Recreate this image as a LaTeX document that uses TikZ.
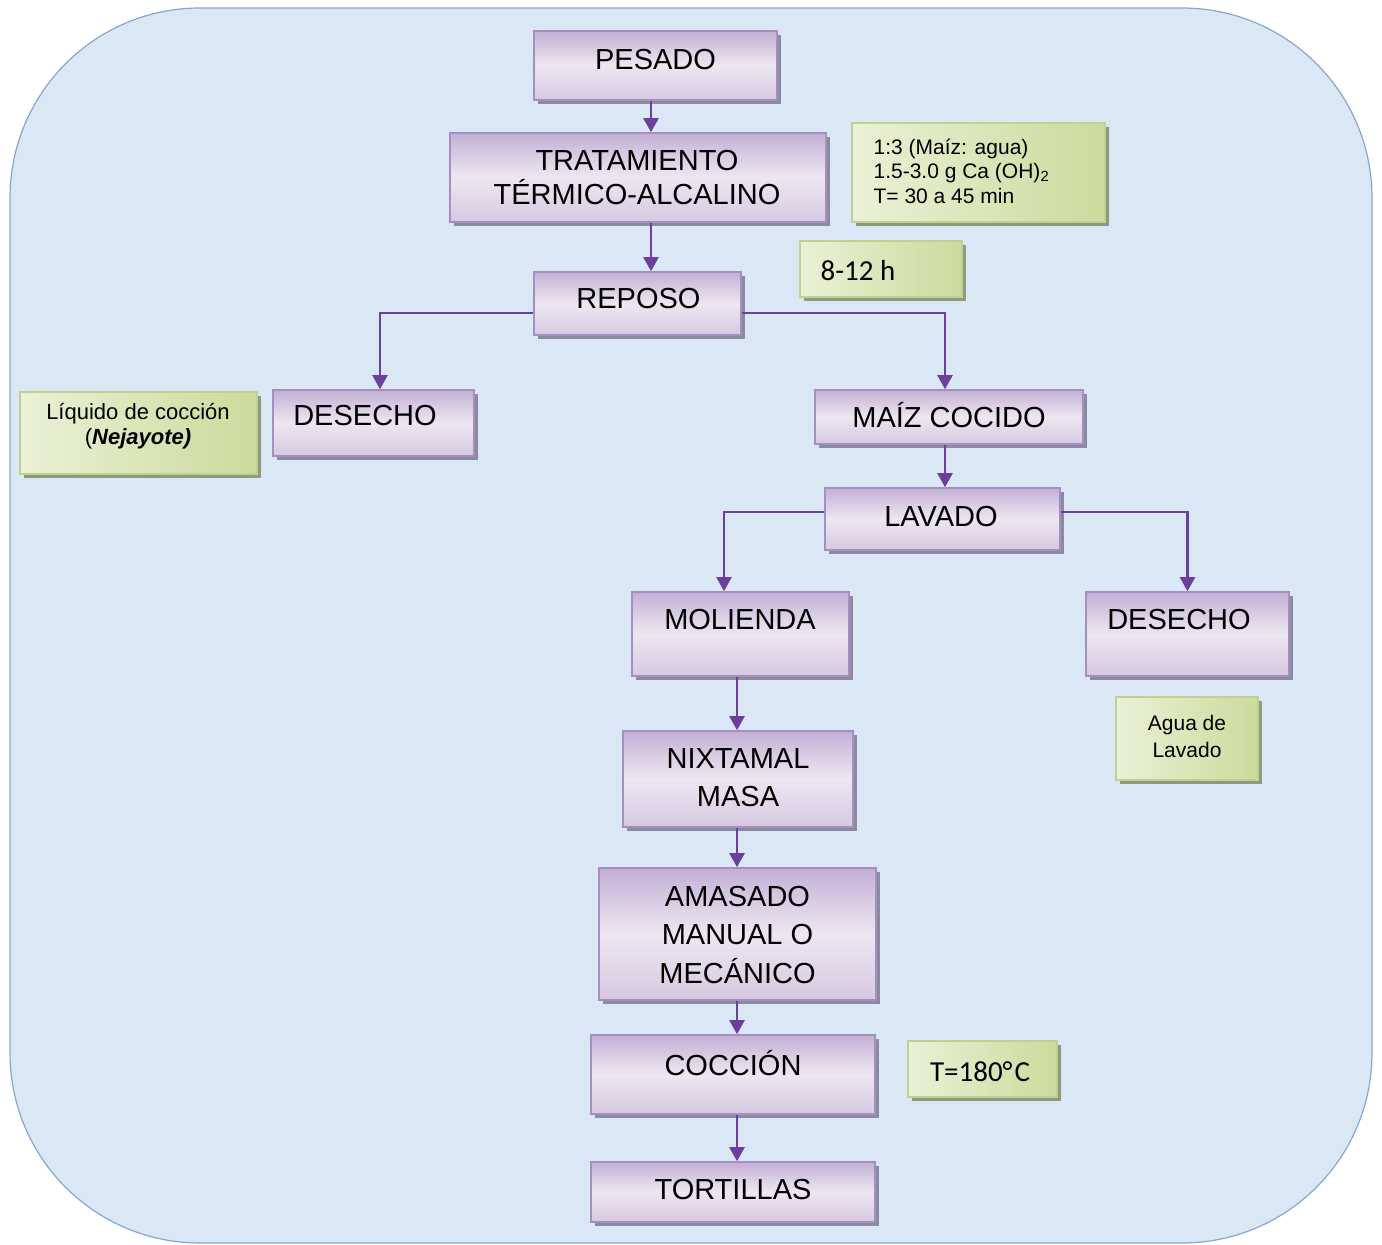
\documentclass[tikz,border=0pt]{standalone}
\usepackage{fontspec}
\setmainfont{Liberation Sans}
\newfontfamily\calfont{Carlito}
\usetikzlibrary{shadows,calc,arrows.meta}
\definecolor{bgfill}{HTML}{DAE7F5}
\definecolor{bgedge}{HTML}{8AA6CF}
\definecolor{ptop}{HTML}{C3AFD5}
\definecolor{pmid}{HTML}{EDE7F1}
\definecolor{pbot}{HTML}{D6C8E1}
\definecolor{pedge}{HTML}{A58FC0}
\definecolor{pshadow}{HTML}{8A8AA2}
\definecolor{gleft}{HTML}{EAF1D6}
\definecolor{gright}{HTML}{CCDA9C}
\definecolor{gedge}{HTML}{BFD08F}
\definecolor{gshadow}{HTML}{8E9A80}
\definecolor{arrowc}{HTML}{6D3F9C}
\tikzset{
  pbox/.style={draw=pedge, line width=0.8pt, top color=ptop, bottom color=pbot, middle color=pmid,
    inner sep=0pt, drop shadow={shadow xshift=2pt, shadow yshift=-2pt, fill=pshadow, opacity=1}},
  gbox/.style={draw=gedge, line width=0.8pt, left color=gleft, right color=gright,
    inner sep=0pt, drop shadow={shadow xshift=2pt, shadow yshift=-2pt, fill=gshadow, opacity=1}},
  ptext/.style={inner sep=0pt, align=center, font=\fontsize{14.5}{17}\selectfont},
  ntext/.style={inner sep=0pt, align=center, font=\fontsize{10.5}{12.5}\selectfont},
  ctext/.style={inner sep=0pt, font=\calfont\fontsize{14.5}{17}\selectfont},
  arr/.style={draw=arrowc, line width=1.1pt, -{Triangle[width=7.5pt,length=7pt]}}
}
\begin{document}
\begin{tikzpicture}[x=0.5pt,y=-0.5pt]
\useasboundingbox (0,0) rectangle (1382,1245);
\path[fill=bgfill, draw=bgedge, line width=0.6pt, rounded corners=95pt] (10,8) rectangle (1372,1243);

% purple boxes
\node[pbox, minimum width=121.5pt, minimum height=34.5pt] (pes) at (655.5,65.5) {};
\node[pbox, minimum width=188pt, minimum height=44.5pt] (trat) at (638,177.5) {};
\node[pbox, minimum width=103.5pt, minimum height=31.5pt] (rep) at (637.5,303.5) {};
\node[pbox, minimum width=100.5pt, minimum height=33pt] (desL) at (373.5,423) {};
\node[pbox, minimum width=134pt, minimum height=27pt] (maiz) at (949,417) {};
\node[pbox, minimum width=117.5pt, minimum height=31pt] (lav) at (942.5,519) {};
\node[pbox, minimum width=108.5pt, minimum height=42pt] (mol) at (740.5,634) {};
\node[pbox, minimum width=101.5pt, minimum height=42pt] (desR) at (1187.5,634) {};
\node[pbox, minimum width=115pt, minimum height=48pt] (nix) at (738,779) {};
\node[pbox, minimum width=138.5pt, minimum height=66pt] (ama) at (737.5,934) {};
\node[pbox, minimum width=142pt, minimum height=39.5pt] (coc) at (733,1074.5) {};
\node[pbox, minimum width=142pt, minimum height=30pt] (tor) at (733,1192) {};

% green notes
\node[gbox, minimum width=126.5pt, minimum height=49.5pt] (n13) at (978.5,172.5) {};
\node[gbox, minimum width=81pt, minimum height=28pt] (h812) at (881,269) {};
\node[gbox, minimum width=118.5pt, minimum height=41pt] (liq) at (138.5,433) {};
\node[gbox, minimum width=71pt, minimum height=41.5pt] (agua) at (1187,738.5) {};
\node[gbox, minimum width=74.5pt, minimum height=28pt] (t180) at (982.5,1069) {};

% texts
\node[ptext] (pes-t) at ($(pes)+(0,-5.5)$) {PESADO};
\node[ptext] (trat-t) at ($(trat)+(-1,0)$) {TRATAMIENTO\\TÉRMICO-ALCALINO};
\node[ptext] (rep-t) at ($(rep)+(1,-4.5)$) {REPOSO};
\node[ptext] (desL-t) at ($(desL)+(-8.5,-7)$) {DESECHO};
\node[ptext] (maiz-t) at ($(maiz)+(0,-2)$) {MAÍZ COCIDO};
\node[ptext] (lav-t) at ($(lav)+(-1.5,-2)$) {LAVADO};
\node[ptext] (mol-t) at ($(mol)+(-0.5,-14)$) {MOLIENDA};
\node[ptext] (desR-t) at ($(desR)+(-8.5,-14)$) {DESECHO};
\node[ptext, font=\fontsize{14.5}{19}\selectfont] (nix-t) at ($(nix)+(0,-1)$) {NIXTAMAL\\MASA};
\node[ptext, font=\fontsize{14.5}{19.25}\selectfont] (ama-t) at ($(ama)+(0,1)$) {AMASADO\\MANUAL O\\MECÁNICO};
\node[ptext] (coc-t) at ($(coc)+(0,-11.5)$) {COCCIÓN};
\node[ptext] (tor-t) at ($(tor)+(0,-2)$) {TORTILLAS};

\node[ntext, align=left, anchor=west, font=\fontsize{10.5}{12.25}\selectfont] (n13-t) at ($(n13.west)+(22,-1.5)$) {1:3 (Maíz: agua)\\1.5-3.0 g Ca (OH)\textsubscript{2}\\T= 30 a 45 min};
\node[ctext, anchor=west] (h812-t) at ($(h812.west)+(21,2)$) {8-12 h};
\node[ntext, font=\fontsize{11}{12.5}\selectfont] (liq-t) at ($(liq)+(-0.5,-7)$) {Líquido de cocción\\(\textbf{\textit{Nejayote)}}};
\node[ntext, font=\fontsize{10.5}{13.5}\selectfont] (agua-t) at ($(agua)+(0,-2.5)$) {Agua de\\Lavado};
\node[ctext] (t180-t) at ($(t180)+(-2.5,3)$) {T=180\hbox{°}\kern1pt\hbox{C}};

% connectors
\coordinate (sx1) at (651,0);
\coordinate (sx2) at (945,0);
\coordinate (sx3) at (737,0);
\draw[arr] (pes.south -| sx1) -- (trat.north -| sx1);
\draw[arr] (trat.south -| sx1) -- (rep.north -| sx1);
\draw[arr] ($(rep.west)+(0,9.5)$) -| ($(desL.north)+(6.5,0)$);
\draw[arr] ($(rep.east)+(0,9.5)$) -| ($(maiz.north)+(-4,0)$);
\draw[arr] (maiz.south -| sx2) -- (lav.north -| sx2);
\draw[arr] ($(lav.west)+(0,-7)$) -| ($(mol.north)+(-16.5,0)$);
\draw[arr] ($(lav.east)+(0,-7)$) -| (desR.north);
\draw[arr] (mol.south -| sx3) -- (nix.north -| sx3);
\draw[arr] (nix.south -| sx3) -- (ama.north -| sx3);
\draw[arr] (ama.south -| sx3) -- (coc.north -| sx3);
\draw[arr] (coc.south -| sx3) -- (tor.north -| sx3);
\end{tikzpicture}
\end{document}
